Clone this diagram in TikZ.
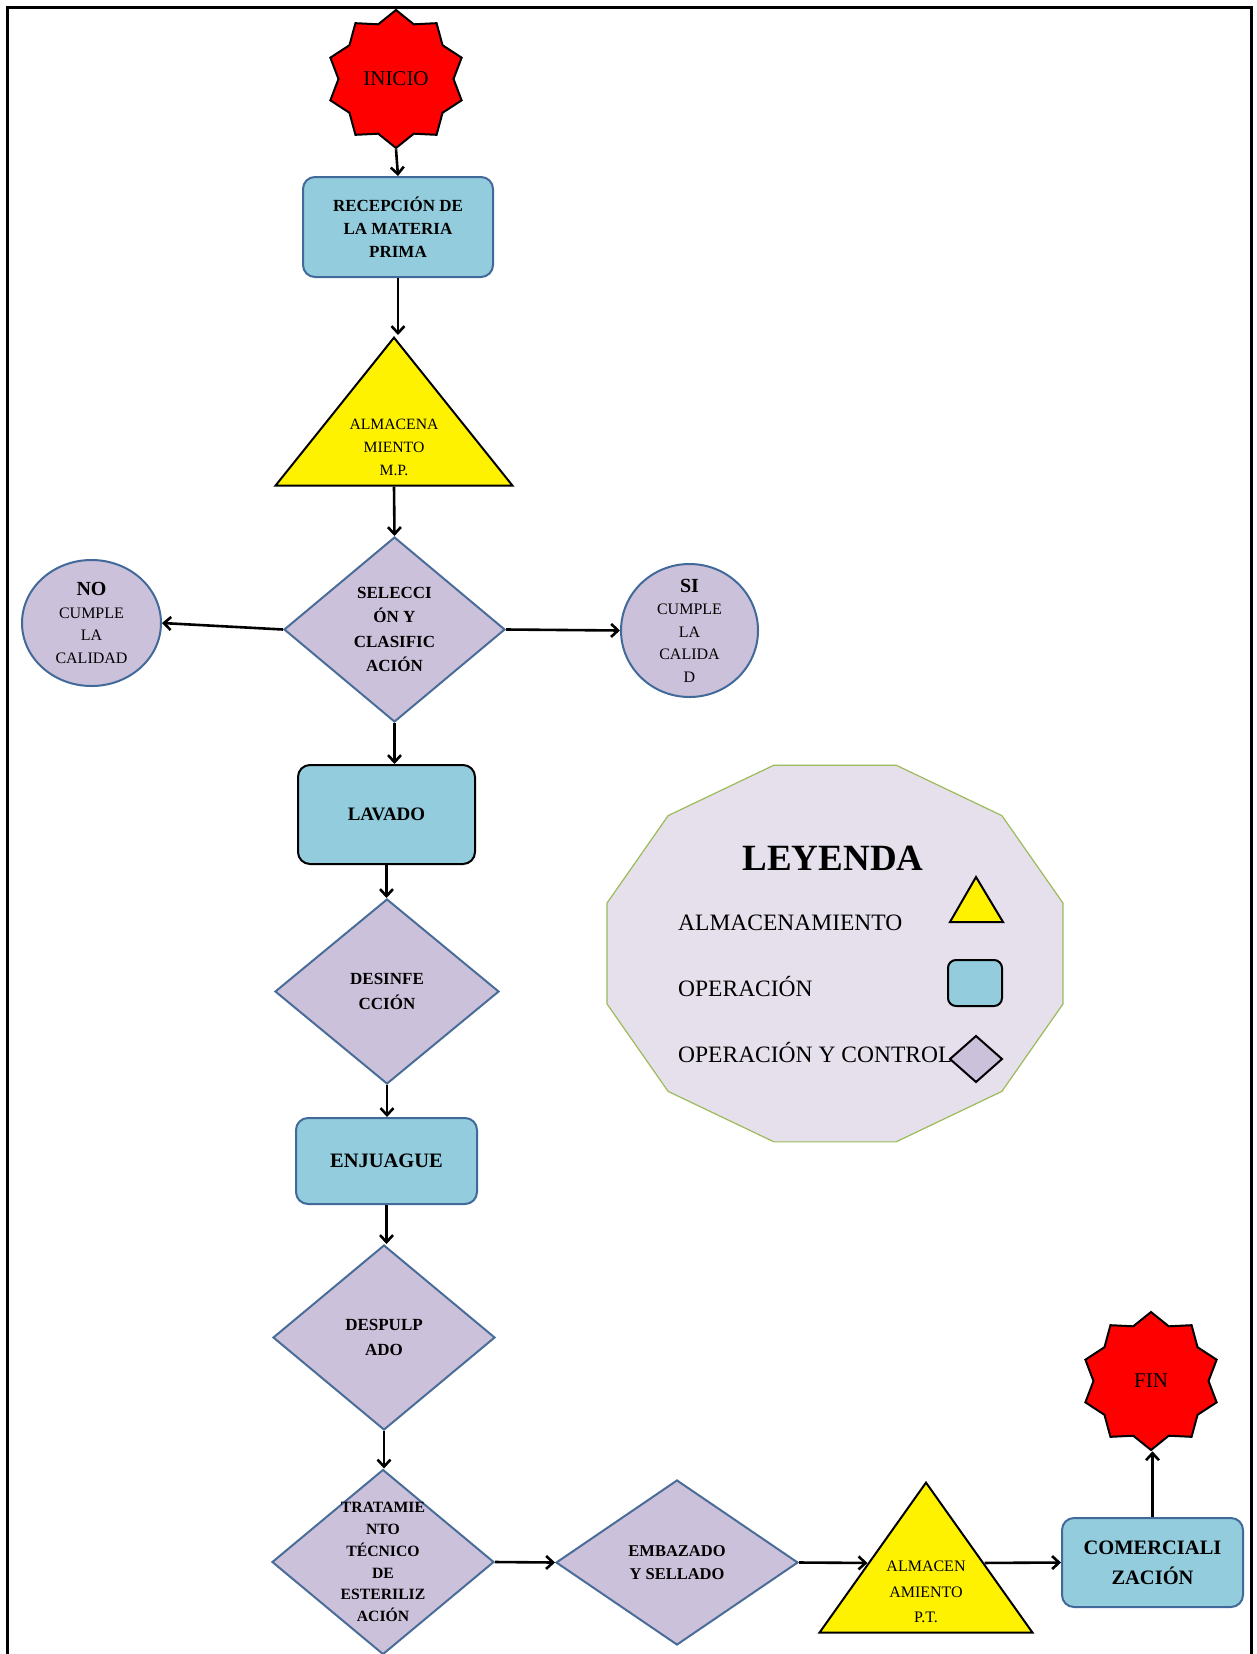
\documentclass[tikz,border=0pt]{standalone}
\usepackage{fontspec}
\setmainfont{Liberation Serif}
\usetikzlibrary{shapes.geometric,arrows.meta,calc}

\definecolor{opfill}{HTML}{93CDDD}
\definecolor{opline}{HTML}{41699A}
\definecolor{ctfill}{HTML}{CCC1DA}
\definecolor{ctline}{HTML}{4A6C98}
\definecolor{legfill}{HTML}{E5E0EC}
\definecolor{legline}{HTML}{9BBB59}

\tikzset{
  oper/.style={rectangle,rounded corners=12pt,draw=opline,fill=opfill,line width=2pt,align=center,inner sep=0pt,font=\fontsize{17}{23}\selectfont\bfseries},
  ctrl/.style={diamond,draw=ctline,fill=ctfill,line width=2pt,align=center,inner sep=0pt,font=\fontsize{17}{24.5}\selectfont\bfseries},
  store/.style={isosceles triangle,shape border rotate=90,isosceles triangle stretches,draw=black,fill=yellow,line width=2pt,inner sep=0pt,anchor=apex},
  storetxt/.style={align=center,inner sep=0pt,font=\fontsize{15.7}{23}\selectfont},
  seal/.style={star,star points=10,star point ratio=1.2,draw=black,fill=red,line width=2pt,inner sep=0pt,minimum size=138pt,font=\fontsize{21}{21}\selectfont},
  verdict/.style={ellipse,draw=opline,fill=ctfill,line width=2pt,inner sep=0pt},
  verdtxt/.style={align=center,inner sep=0pt,font=\fontsize{16}{22.5}\selectfont},
  trattxt/.style={align=center,inner sep=0pt,font=\fontsize{15.7}{21.8}\selectfont\bfseries},
  legtxt/.style={anchor=base west,inner sep=0pt,font=\fontsize{23.5}{24}\selectfont},
  arr/.style={-{Straight Barb[length=7pt,width=13pt]},line width=2.6pt},
}

\begin{document}
\begin{tikzpicture}[x=1pt,y=-1pt]
  \useasboundingbox (0,0) rectangle (1256,1654);
  \draw[line width=3pt] (7,1654) -- (7,8) -- (1251,8) -- (1251,1654);

  % leyenda
  \draw[legline,fill=legfill,line width=1.2pt] plot[samples at={15,45,...,345}] ({835+236*cos(\x)},{953.5+195*sin(\x)}) -- cycle;
  \node[anchor=base,inner sep=0pt,font=\fontsize{37}{37}\selectfont\bfseries] (leyenda) at (833,870) {LEYENDA};
  \node[legtxt] (lalm) at (678,930) {ALMACENAMIENTO};
  \node[legtxt] (lope) at (678,996) {OPERACIÓN};
  \node[legtxt] (lctr) at (678,1062) {OPERACIÓN Y CONTROL};
  \draw[line width=2pt,fill=yellow] (976,877) -- (1003,922) -- (950,922) -- cycle;
  \draw[line width=2pt,fill=opfill,rounded corners=8pt] (948,960) rectangle (1002,1006);
  \draw[line width=2pt,fill=ctfill] (976,1036) -- (1002,1059) -- (976,1082) -- (950,1059) -- cycle;

  % diagrama
  \node[seal] (inicio) at (396,79) {INICIO};
  \node[oper,minimum width=190pt,minimum height=100pt] (recep) at (398,227) {RECEPCIÓN DE\\LA MATERIA\\PRIMA};
  \node[store,minimum width=237pt,minimum height=148pt] (almmp) at (394,335) {};
  \node[storetxt] (txtmp) at (394,447) {ALMACENA\\MIENTO\\M.P.};
  \node[ctrl,minimum width=221pt,minimum height=185pt] (selec) at (394.5,629.5) {SELECCI\\ÓN Y\\CLASIFIC\\ACIÓN};
  \node[verdict,minimum width=139pt,minimum height=126pt,
        label={[verdtxt]center:{\bfseries\fontsize{20}{22.5}\selectfont NO}\\CUMPLE\\LA\\CALIDAD}] (nocum) at (91.5,623) {};
  \node[verdict,minimum width=137pt,minimum height=133pt,
        label={[verdtxt]center:{\bfseries\fontsize{20}{22.5}\selectfont SI}\\CUMPLE\\LA\\CALIDA\\D}] (sicum) at (689.5,630.5) {};
  \node[oper,draw=black,minimum width=177pt,minimum height=99pt,font=\fontsize{19}{23}\selectfont\bfseries] (lavado) at (386.5,814.5) {LAVADO};
  \node[ctrl,minimum width=224pt,minimum height=185pt] (desinf) at (387,991.5) {DESINFE\\CCIÓN};
  \node[oper,minimum width=181pt,minimum height=86pt,font=\fontsize{20.5}{23}\selectfont\bfseries] (enjuague) at (386.5,1161) {ENJUAGUE};
  \node[ctrl,minimum width=222pt,minimum height=185pt] (despulp) at (384,1337.5) {DESPULP\\ADO};
  \node[ctrl,minimum width=222pt,minimum height=185pt,
        label={[trattxt]center:TRATAMIE\\NTO\\TÉCNICO\\DE\\ESTERILIZ\\ACIÓN}] (tratam) at (383,1562) {};
  \node[ctrl,minimum width=242pt,minimum height=165pt,font=\fontsize{16.5}{23.5}\selectfont\bfseries] (embaz) at (677,1562.5) {EMBAZADO\\Y SELLADO};
  \node[store,minimum width=213pt,minimum height=150pt] (almpt) at (926,1480) {};
  \node[storetxt,font=\fontsize{16}{25.5}\selectfont] (txtpt) at (926,1592) {ALMACEN\\AMIENTO\\P.T.};
  \node[oper,minimum width=181pt,minimum height=89pt,font=\fontsize{20.5}{30}\selectfont\bfseries] (comerc) at (1152.5,1562.5) {COMERCIALI\\ZACIÓN};
  \node[seal] (fin) at (1151,1381) {FIN};

  % flechas
  \draw[arr] (inicio.south) -- (recep.north);
  \draw[arr] (recep.south) -- (recep.south |- almmp.apex);
  \draw[arr] (almmp.lower side) -- (selec.north);
  \draw[arr] (selec.west) -- (nocum.east);
  \draw[arr] (selec.east) -- (sicum.west);
  \draw[arr] (selec.south) -- (selec.south |- lavado.north);
  \draw[arr] (lavado.south) -- (lavado.south |- desinf.north);
  \draw[arr] (desinf.south) -- (desinf.south |- enjuague.north);
  \draw[arr] (enjuague.south) -- (enjuague.south |- despulp.north);
  \draw[arr] (despulp.south) -- (despulp.south |- tratam.north);
  \draw[arr] (tratam.east) -- (embaz.west);
  \draw[arr] (embaz.east) -- ($(almpt.apex)!.54!(almpt.left corner)$);
  \draw[arr] ($(almpt.apex)!.54!(almpt.right corner)$) -- (comerc.west);
  \draw[arr] (comerc.north) -- (comerc.north |- fin.south);
\end{tikzpicture}
\end{document}
